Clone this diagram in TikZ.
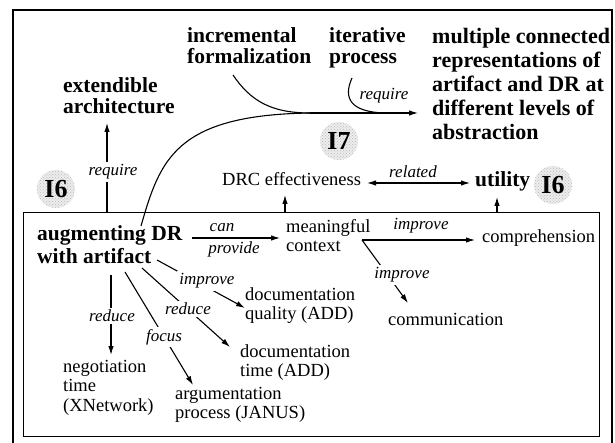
\documentclass[tikz,border=0pt]{standalone}
\usepackage{fontspec}
\setmainfont{Liberation Serif}
\usetikzlibrary{arrows.meta,patterns}
\tikzset{
  bt/.style={font=\fontsize{21.5}{21.5}\selectfont\bfseries, align=left, inner sep=0pt, anchor=north west},
  rt/.style={font=\fontsize{18.5}{19.5}\selectfont, align=left, inner sep=0pt, anchor=north west},
  lbl/.style={font=\fontsize{17}{17}\selectfont\itshape, inner sep=2.5pt, fill=white},
  lbltx/.style={font=\fontsize{17}{17}\selectfont\itshape, inner sep=0pt},
  conn/.style={line width=1.1pt},
  arr/.style={line width=1.1pt, -{Latex[length=9pt,width=5.5pt]}},
  arrb/.style={line width=1.1pt, {Latex[length=9pt,width=5.5pt]}-{Latex[length=9pt,width=5.5pt]}},
  badge/.style={circle, minimum size=38pt, inner sep=0pt, fill=gray!14,
    postaction={pattern=crosshatch dots, pattern color=gray!55},
    font=\fontsize{26}{26}\selectfont\bfseries},
}
\begin{document}
\begin{tikzpicture}[x=1pt,y=-1pt]
\useasboundingbox (0,0) rectangle (615,443);
\clip (0,0) rectangle (615,443);
\fill[white] (0,0) rectangle (615,443);
% outer frame
\draw[line width=2.6pt] (13,470) -- (13,10) -- (612,10) -- (612,470);
% inner box
\node[draw, line width=1.1pt, minimum width=576pt, minimum height=224pt, inner sep=0pt, anchor=north west] (box) at (23,212) {};

% bold nodes
\node[bt] (incr) at (187,27) {incremental\\formalization};
\node[bt] (iter) at (329,27) {iterative\\process};
\node[bt, font=\fontsize{22}{24}\selectfont\bfseries] (multi) at (432,28) {multiple connected\\representations of\\artifact and DR at\\different levels of\\abstraction};
\node[bt] (ext) at (63,77) {extendible\\architecture};
\node[bt, font=\fontsize{21.5}{23}\selectfont\bfseries] (aug) at (37,225) {augmenting DR\\with artifact};
\node[bt, anchor=base west] (util) at (475,187) {utility};

% regular nodes
\node[rt, anchor=base west] (drc) at (222,186) {DRC effectiveness};
\node[rt] (mc) at (286,219) {meaningful\\context};
\node[rt, anchor=base west] (comp) at (482,243) {comprehension};
\node[rt, anchor=base west] (comm) at (388,325) {communication};
\node[rt] (docq) at (245,287) {documentation\\quality (ADD)};
\node[rt] (doct) at (240,344) {documentation\\time (ADD)};
\node[rt] (arg) at (175,387) {argumentation\\process (JANUS)};
\node[rt] (neg) at (63,360) {negotiation\\time\\(XNetwork)};

% badges
\node[badge] (bA) at (56,189) {I6};
\node[badge] (bB) at (339,141) {I7};
\node[badge] (bC) at (553,185) {I6};

% coordinates
\coordinate (J) at (310,113);
\coordinate (augtop) at (141,226);
\coordinate (incrbot) at (233,75);
\coordinate (iterbot) at (352,78);
\coordinate (iterjoin) at (385,113);
\coordinate (multitip) at (418,113);
\coordinate (extfrom) at (107,212);
\coordinate (extto) at (107,123);
\coordinate (drcfrom) at (285,212);
\coordinate (drcto) at (285,195);
\coordinate (relA) at (367,183);
\coordinate (relB) at (470,183);
\coordinate (utilfrom) at (497,212);
\coordinate (utilto) at (497,197);
\coordinate (cpA) at (192,238);
\coordinate (cpB) at (280,238);
\coordinate (fork) at (362,240);
\coordinate (compto) at (475,240);
\coordinate (commto) at (408,303);
\coordinate (iqA) at (157,260);
\coordinate (iqB) at (245,308);
\coordinate (rtA) at (142,268);
\coordinate (rtB) at (230,347);
\coordinate (fA) at (125,272);
\coordinate (fB) at (193,385);
\coordinate (rnA) at (111,275);
\coordinate (rnB) at (111,355);

% top curves
\draw[conn] (augtop) .. controls (160,160) and (175,115) .. (J);
\draw[conn] (incrbot) .. controls (250,100) and (270,113) .. (J);
\draw[conn] (iterbot) .. controls (343,98) and (350,112) .. (iterjoin);
\draw[arr] (J) -- (multitip);
\node[lbltx] (lreq2) at (384,96) {require};

% arrows to outer items
\draw[arr] (extfrom) -- (extto);
\node[lbl] (lreq1) at (113,172) {require};
\draw[arr] (drcfrom) -- (drcto);
\draw[arrb] (relA) -- (relB);
\node[lbltx] (lrel) at (413,172) {related};
\draw[arr] (utilfrom) -- (utilto);

% inner arrows
\draw[arr] (cpA) -- (cpB);
\node[lbltx] (lcan) at (222,228) {can};
\node[lbltx] (lprov) at (234,249) {provide};
\draw[arr] (fork) -- (compto);
\node[lbltx] (limp1) at (421,226) {improve};
\draw[arr] (fork) -- (commto);
\node[lbl] (limp2) at (402,275) {improve};
\draw[arr] (iqA) -- (iqB);
\node[lbl] (limp3) at (207,281) {improve};
\draw[arr] (rtA) -- (rtB);
\node[lbl] (lred1) at (188,309) {reduce};
\draw[arr] (fA) -- (fB);
\node[lbl] (lfoc) at (164,337) {focus};
\draw[arr] (rnA) -- (rnB);
\node[lbl] (lred2) at (112,316) {reduce};
\end{tikzpicture}
\end{document}
